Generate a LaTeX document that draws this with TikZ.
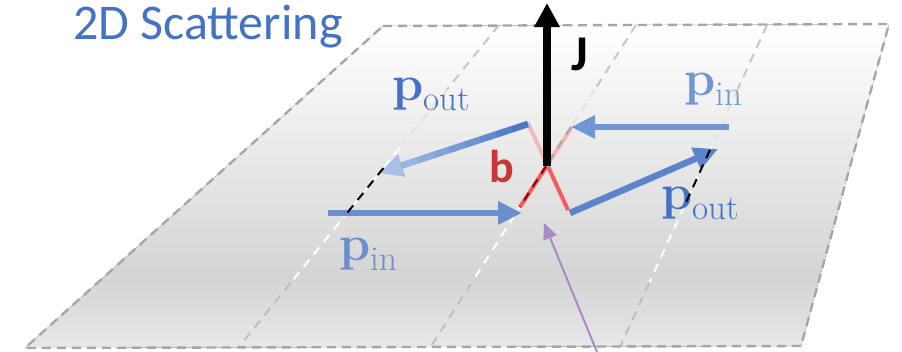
\documentclass[tikz,border=0pt]{standalone}
\usepackage{fontspec}
\usepackage{tikz}
\usetikzlibrary{arrows.meta, calc}
\newfontfamily\calibri{Carlito}
\definecolor{titleblue}{RGB}{68,114,196}
\definecolor{rimgray}{RGB}{166,166,166}
\definecolor{planemid}{RGB}{212,212,212}
\definecolor{planelow}{RGB}{232,232,232}
\definecolor{pinleft}{RGB}{106,143,203}
\definecolor{pinright}{RGB}{112,151,211}
\definecolor{poutright}{RGB}{91,132,204}
\definecolor{poutdark}{RGB}{74,120,199}
\definecolor{poutlight}{RGB}{169,192,230}
\definecolor{bpale}{RGB}{245,184,184}
\definecolor{bred}{RGB}{242,94,94}
\definecolor{btext}{RGB}{200,54,58}
\definecolor{probe}{RGB}{166,139,201}
\pgfdeclareverticalshading{planeshade}{100bp}{color(0bp)=(planelow); color(25bp)=(planelow); color(36bp)=(planemid); color(75bp)=(white); color(100bp)=(white)}
\newcommand{\pvec}[1]{{\fontsize{50}{50}\selectfont\bfseries p}\raisebox{-10pt}{\fontsize{35}{35}\selectfont #1}}

\begin{document}
\begin{tikzpicture}[x=1pt, y=-1pt,
    rim/.style={draw=rimgray, line width=2.4pt, dash pattern=on 9pt off 6pt},
    guideline/.style={line width=2pt, dash pattern=on 9pt off 7pt},
    shaft/.style={line width=6.5pt, -{Triangle[length=24pt, width=22pt]}},
    plabel/.style={inner sep=0pt},
    blink/.style={line width=4pt}]
  \useasboundingbox (0,0) rectangle (902,351);
  \coordinate (tl) at (383,26);
  \coordinate (tr) at (889,24);
  \coordinate (br) at (801,346);
  \coordinate (bl) at (25,348);
  \coordinate (la) at (499,25);
  \coordinate (lb) at (238,348);
  \coordinate (ma) at (636,25);
  \coordinate (mb) at (430,348);
  \coordinate (ra) at (767,25);
  \coordinate (rb) at (620,347);
  \fill[shading=planeshade] (tl) -- (tr) -- (br) -- (bl) -- cycle;
  \foreach \a/\b in {la/lb, ma/mb, ra/rb}{
    \draw[guideline, gray!45] (\a) -- ($(\a)!0.2!(\b)$);
    \draw[guideline, gray!22] ($(\a)!0.2!(\b)$) -- ($(\a)!0.38!(\b)$);
    \draw[guideline, white] ($(\a)!0.38!(\b)$) -- ($(\a)!0.8!(\b)$);
    \draw[guideline, gray!50] ($(\a)!0.8!(\b)$) -- (\b);
  }
  \draw[rim] (tl) -- (tr) -- (br) -- (bl) -- cycle;

  \node[anchor=base west, inner sep=0pt, text=titleblue, font=\calibri\fontsize{50}{50}\selectfont] (title) at (73,39) {2D Scattering};

  \coordinate (ba1) at (528,123);
  \coordinate (ba2) at (568,210);
  \coordinate (bb1) at (572,127);
  \coordinate (bb2) at (520,207);
  \draw[blink, bpale] (ba1) -- ($(ba1)!0.49!(ba2)$);
  \draw[blink, bred] ($(ba1)!0.49!(ba2)$) -- (ba2);
  \draw[blink, bpale] (bb1) -- ($(bb1)!0.49!(bb2)$);
  \draw[blink, bred] ($(bb1)!0.49!(bb2)$) -- (bb2);
  \draw[guideline, gray!70] ($(ma)!0.316!(mb)$) -- ($(ma)!0.4365!(mb)$);
  \draw[guideline, red!55!black] ($(ma)!0.4365!(mb)$) -- ($(ma)!0.5635!(mb)$);

  \coordinate (jfoot) at (547,166);
  \coordinate (jtip) at (547,3);
  \draw[line width=7.5pt, -{Triangle[length=24pt, width=24pt]}] (jfoot) -- (jtip);
  \node[anchor=base, font=\calibri\bfseries\fontsize{50}{50}\selectfont] (jlbl) at (580,70) {J};
  \node[anchor=base, text=btext, font=\calibri\bfseries\fontsize{46}{46}\selectfont] (blbl) at (502,182) {b};

  \coordinate (pinAs) at (328,213);
  \coordinate (pinAe) at (522,213);
  \coordinate (pinBs) at (729,127);
  \coordinate (pinBe) at (571,127);
  \coordinate (poutAs) at (528,124);
  \coordinate (poutAe) at (379,173);
  \coordinate (poutBs) at (570,213);
  \coordinate (poutBe) at (718,149);
  \draw[shaft, pinleft] (pinAs) -- (pinAe);
  \draw[shaft, pinright] (pinBs) -- (pinBe);
  \draw[shaft, poutright] (poutBs) -- (poutBe);
  \draw[shaft, poutlight] (poutAs) -- (poutAe);
  \foreach \i in {0,...,7}{
    \pgfmathsetmacro\m{100-12*\i}
    \draw[line width=6.5pt, poutdark!\m!poutlight] ($(poutAs)!\i*0.106!(poutAe)$) -- ($(poutAs)!\i*0.106+0.11!(poutAe)$);
  }

  \coordinate (probefoot) at (597,352);
  \coordinate (probetip) at (544,223);
  \draw[probe, line width=2pt, -{Triangle[length=16pt, width=14pt]}] (probefoot) -- (probetip);

  \node[plabel, text=pinleft] (pinAl) at (368,254) {\pvec{in}};
  \node[plabel, text=pinright] (pinBl) at (713,89) {\pvec{in}};
  \node[plabel, text=titleblue] (poutAl) at (431,94) {\pvec{out}};
  \node[plabel, text=titleblue] (poutBl) at (700,203) {\pvec{out}};

  \draw[guideline, black] ($(la)!0.443!(lb)$) -- ($(la)!0.582!(lb)$);
  \draw[guideline, black] ($(ra)!0.388!(rb)$) -- ($(ra)!0.559!(rb)$);
\end{tikzpicture}
\end{document}
